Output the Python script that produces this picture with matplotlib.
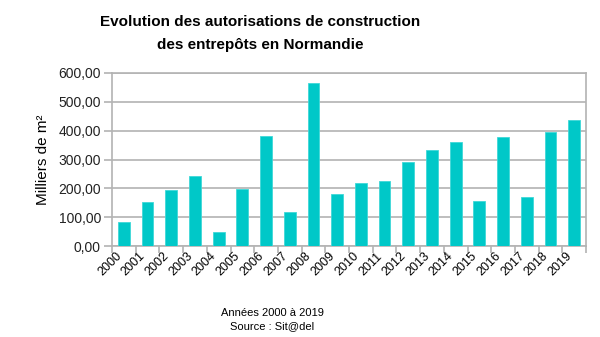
import matplotlib
matplotlib.use("Agg")
import matplotlib.pyplot as plt
from matplotlib import font_manager
import numpy as np

plt.rcParams["font.family"] = ["Liberation Sans", "DejaVu Sans"]

# données (milliers de m²)
years = [str(y) for y in range(2000, 2020)]
values = [84, 151, 193, 243, 49, 199, 381, 117, 565, 179,
          220, 224, 291, 333, 360, 156, 377, 170, 395, 436]
yticks = [0, 100, 200, 300, 400, 500, 600]

BAR = "#00C8C8"
GRID = "#b3b3b3"

names = {f.name for f in font_manager.fontManager.ttflist}
title_family = ["Liberation Sans Narrow"] if "Liberation Sans Narrow" in names else ["Liberation Sans"]
title_size = 12.5 if "Liberation Sans Narrow" in names else 11

fig = plt.figure(figsize=(6.0, 3.37), dpi=100)
ax = fig.add_axes([112 / 600, 1 - 246 / 337, 474 / 600, 173 / 337])

x = np.arange(len(years))
ax.bar(x, values, width=0.5, color=BAR, edgecolor="#3fd8d8", linewidth=0.6, zorder=3)

ax.set_xlim(-0.5, len(years) - 0.5)
ax.set_ylim(0, 600)
ax.set_yticks(yticks)
ax.set_yticklabels([f"{v:.2f}".replace(".", ",") for v in yticks], fontsize=10, color="#222222")
ax.yaxis.grid(True, color=GRID, linewidth=1.2, zorder=0)

# ticks between categories, labels at bar centres
ax.set_xticks(np.arange(len(years) + 1) - 0.5)
ax.set_xticklabels([])
ax.set_xticks(x, minor=True)
ax.set_xticklabels(years, minor=True, rotation=45, ha="right", va="top", fontsize=9)
ax.tick_params(axis="x", which="major", length=5, color=GRID, width=1.2)
ax.tick_params(axis="x", which="minor", length=0, pad=3)
ax.tick_params(axis="y", length=6, color=GRID, width=1.2, pad=2)

for s in ax.spines.values():
    s.set_color(GRID)
    s.set_linewidth(1.2)

ax.set_ylabel("Milliers de m²", fontsize=11, labelpad=6)

fig.text(260 / 600, 1 - 22 / 337, "Evolution des autorisations de construction",
         ha="center", va="center", fontsize=title_size, fontweight="bold", family=title_family)
fig.text(260 / 600, 1 - 45 / 337, "des entrepôts en Normandie",
         ha="center", va="center", fontsize=title_size, fontweight="bold", family=title_family)

fig.text(272 / 600, 1 - 313 / 337, "Années 2000 à 2019", ha="center", va="center", fontsize=8)
fig.text(272 / 600, 1 - 326 / 337, "Source : Sit@del", ha="center", va="center", fontsize=8)

fig.savefig("out.png", dpi=100, facecolor="white")
